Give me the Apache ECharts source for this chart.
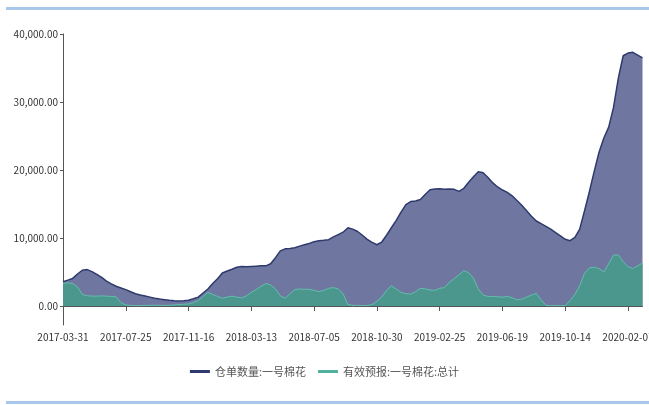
<!DOCTYPE html>
<html>
<head>
<meta charset="utf-8">
<script src="https://cdn.jsdelivr.net/npm/echarts@6/dist/echarts.min.js"></script>
<style>
html,body{margin:0;padding:0;background:#fff;}
#chart{width:649px;height:405px;}
</style>
</head>
<body>
<div id="chart"></div>
<script>
// Categories (trading dates); every 13th date is a shown tick label
const dates = [
 '2017-03-31','2017-04-12','2017-04-21','2017-05-02','2017-05-10','2017-05-19','2017-05-26','2017-06-06','2017-06-14','2017-06-22','2017-06-30','2017-07-10','2017-07-17',
 '2017-07-25','2017-08-02','2017-08-10','2017-08-18','2017-08-28','2017-09-05','2017-09-13','2017-09-21','2017-09-29','2017-10-17','2017-10-25','2017-11-02','2017-11-09',
 '2017-11-16','2017-11-24','2017-12-04','2017-12-12','2017-12-20','2017-12-28','2018-01-08','2018-01-16','2018-01-24','2018-02-01','2018-02-09','2018-02-26','2018-03-05',
 '2018-03-13','2018-03-21','2018-03-29','2018-04-10','2018-04-18','2018-04-26','2018-05-08','2018-05-16','2018-05-24','2018-06-01','2018-06-11','2018-06-20','2018-06-28',
 '2018-07-05','2018-07-13','2018-07-23','2018-07-31','2018-08-08','2018-08-16','2018-08-24','2018-09-03','2018-09-11','2018-09-19','2018-09-28','2018-10-15','2018-10-23',
 '2018-10-30','2018-11-07','2018-11-15','2018-11-23','2018-12-03','2018-12-11','2018-12-19','2018-12-27','2019-01-08','2019-01-16','2019-01-24','2019-02-01','2019-02-15',
 '2019-02-25','2019-03-05','2019-03-13','2019-03-21','2019-03-29','2019-04-09','2019-04-17','2019-04-25','2019-05-08','2019-05-16','2019-05-24','2019-06-03','2019-06-11',
 '2019-06-19','2019-06-27','2019-07-05','2019-07-15','2019-07-23','2019-07-31','2019-08-08','2019-08-16','2019-08-26','2019-09-03','2019-09-11','2019-09-20','2019-09-30',
 '2019-10-14','2019-10-22','2019-10-30','2019-11-07','2019-11-15','2019-11-25','2019-12-03','2019-12-11','2019-12-19','2019-12-27','2020-01-07','2020-01-15','2020-01-23',
 '2020-02-07','2020-02-17','2020-02-25','2020-03-04'
];

// 仓单数量:一号棉花
const receipts = [
 3570,3800,4050,4700,5250,5350,5050,4650,4200,3650,3250,2900,2650,
 2400,2100,1800,1600,1450,1300,1150,1030,930,830,750,730,760,
 850,1050,1300,1900,2500,3300,4000,4850,5150,5400,5700,5800,5750,
 5800,5850,5900,5900,6200,7100,8100,8400,8450,8550,8800,9000,9200,
 9450,9600,9650,9750,10150,10500,10850,11500,11300,10950,10400,9800,9350,
 9000,9400,10400,11500,12600,13800,14900,15350,15450,15650,16400,17100,17200,
 17250,17150,17200,17150,16850,17300,18200,19000,19750,19600,18900,18100,17500,
 17050,16700,16200,15500,14800,14000,13200,12500,12100,11700,11300,10800,10300,
 9800,9600,10100,11300,14000,16800,19800,22600,24700,26300,29200,33500,36800,
 37200,37300,36900,36500
];

// 有效预报:一号棉花:总计
const forecasts = [
 3330,3400,3300,2800,1700,1500,1450,1450,1480,1450,1400,1350,500,
 150,80,50,50,80,100,120,100,80,100,150,200,250,
 300,500,800,1400,2000,1700,1400,1150,1300,1450,1300,1200,1500,
 2000,2400,2900,3300,3100,2500,1500,1150,1800,2400,2500,2450,2450,
 2300,2100,2300,2600,2700,2500,1800,200,100,80,60,60,200,
 700,1300,2300,3000,2500,2000,1800,1750,2100,2600,2500,2350,2300,
 2600,2700,3500,4000,4600,5200,4900,4100,2500,1600,1400,1400,1350,
 1300,1400,1200,900,1000,1300,1600,1850,900,100,50,50,50,
 50,800,1700,3000,4800,5600,5700,5500,5000,6200,7500,7500,6500,
 5800,5500,5900,6300
];

const yTicks = [0, 10000, 20000, 30000, 40000];
const seriesNames = ['仓单数量:一号棉花', '有效预报:一号棉花:总计'];

const chart = echarts.init(document.getElementById('chart'), null, {renderer: 'canvas'});
const fontFam = '"Noto Sans CJK SC", "Noto Sans", sans-serif';
chart.setOption({
  animation: false,
  backgroundColor: '#ffffff',
  graphic: [
    {type: 'rect', left: 6, top: 7, shape: {width: 643, height: 3}, style: {fill: '#a7c8ea'}, silent: true},
    {type: 'rect', left: 6, top: 401, shape: {width: 643, height: 3}, style: {fill: '#a7c8ea'}, silent: true}
  ],
  grid: {left: 63, right: 6.5, top: 34, bottom: 80, containLabel: false, outerBoundsMode: 'none'},
  legend: {
    top: 361,
    left: 'center',
    icon: 'rect',
    itemWidth: 20,
    itemHeight: 3,
    itemGap: 12,
    textStyle: {fontSize: 11, color: '#555', fontFamily: fontFam},
    data: seriesNames
  },
  xAxis: {
    type: 'category',
    boundaryGap: false,
    data: dates,
    axisLine: {onZero: true, lineStyle: {color: '#555', width: 1}},
    axisTick: {show: true, interval: 12, length: 5, lineStyle: {color: '#555'}},
    axisLabel: {interval: 12, margin: 7, fontSize: 10, color: '#333', fontFamily: fontFam, hideOverlap: false},
    splitLine: {show: false}
  },
  yAxis: {
    type: 'value',
    min: -2800,
    max: 40000,
    axisLine: {show: true, lineStyle: {color: '#555', width: 1}},
    axisTick: {show: true, length: 3, customValues: yTicks, lineStyle: {color: '#555'}},
    axisLabel: {
      customValues: yTicks,
      margin: 5,
      fontSize: 10,
      color: '#333',
      fontFamily: fontFam,
      formatter: v => Number(v).toLocaleString('en-US', {minimumFractionDigits: 2, maximumFractionDigits: 2})
    },
    splitLine: {show: false}
  },
  series: [
    {
      name: seriesNames[0],
      type: 'line',
      data: receipts,
      symbol: 'none',
      showSymbol: false,
      itemStyle: {color: '#2e3a6c'},
      lineStyle: {color: '#2e3a6c', width: 1.5},
      areaStyle: {color: '#6f77a1', opacity: 1, origin: 0},
      z: 2
    },
    {
      name: seriesNames[1],
      type: 'line',
      data: forecasts,
      symbol: 'none',
      showSymbol: false,
      itemStyle: {color: '#52b09f'},
      lineStyle: {color: '#63bdad', width: 1},
      areaStyle: {color: '#4c978d', opacity: 1, origin: 0},
      z: 3
    }
  ]
});
</script>
</body>
</html>
